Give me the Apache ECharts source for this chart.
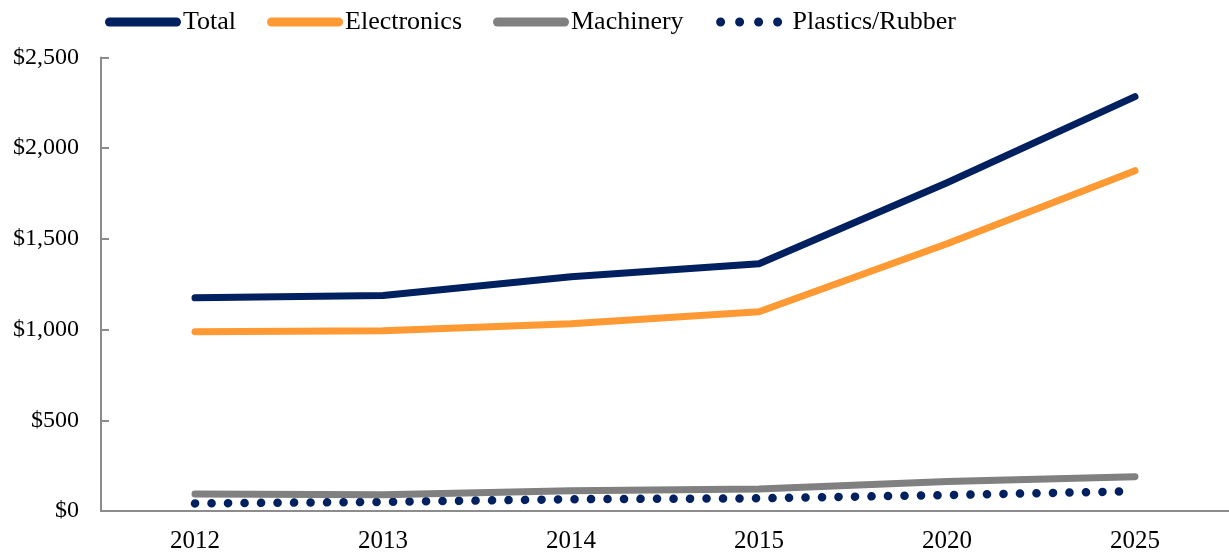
<!DOCTYPE html>
<html>
<head>
<meta charset="utf-8">
<script src="https://cdn.jsdelivr.net/npm/echarts@6/dist/echarts.min.js"></script>
<style>
html,body{margin:0;padding:0;background:#fff;}
#chart{width:1229px;height:557px;}
</style>
</head>
<body>
<div id="chart"></div>
<script>
const categories = ['2012', '2013', '2014', '2015', '2020', '2025'];
const total = [1175, 1188, 1291, 1363, 1810, 2284];
const electronics = [988, 993, 1032, 1098, 1473, 1876];
const machinery = [94, 90, 112, 121, 162, 189];
const plastics = [42, 50, 65, 70, 88, 109];
const seriesNames = ['Total', 'Electronics', 'Machinery', 'Plastics/Rubber'];

const FONT = '"Liberation Serif", "DejaVu Serif", serif';
const chart = echarts.init(document.getElementById('chart'), null, {renderer: 'canvas'});

const capsuleIcon = 'path://M4.5,0 L71.5,0 A4.5,4.5 0 0 1 71.5,9 L4.5,9 A4.5,4.5 0 0 1 4.5,0 Z';
function circ(cx) { return 'M' + (cx - 4.5) + ',4.5 a4.5,4.5 0 1,0 9,0 a4.5,4.5 0 1,0 -9,0 '; }
const dotsIcon = 'path://M0,4.5 L0.01,4.5 M76,4.5 L75.99,4.5 ' + circ(6) + circ(25) + circ(44) + circ(63);

function lineSeries(name, data, color, width, dash) {
  return {
    name: name,
    type: 'line',
    data: data,
    symbol: 'none',
    smooth: false,
    silent: true,
    lineStyle: {
      color: color,
      width: width,
      type: dash || 'solid',
      cap: 'round',
      join: 'round'
    },
    itemStyle: {color: color},
    z: dash ? 1 : 2
  };
}

chart.setOption({
  animation: false,
  backgroundColor: '#ffffff',
  textStyle: {fontFamily: FONT},
  legend: {
    top: 4,
    left: 100,
    itemWidth: 76,
    itemHeight: 9,
    itemGap: 31,
    itemStyle: {borderWidth: 0},
    data: [
      {name: seriesNames[0], icon: capsuleIcon},
      {name: seriesNames[1], icon: capsuleIcon},
      {name: seriesNames[2], icon: capsuleIcon},
      {name: seriesNames[3], icon: dotsIcon}
    ],
    textStyle: {fontFamily: FONT, fontSize: 26, color: '#000', padding: [0, 0, 0, -3]}
  },
  grid: {left: 101, top: 57.5, width: 1131, height: 453.5, containLabel: false},
  xAxis: {
    type: 'category',
    data: categories,
    boundaryGap: true,
    axisLine: {lineStyle: {color: '#8c8c8c', width: 2}},
    axisTick: {show: false},
    axisLabel: {fontFamily: FONT, fontSize: 25, color: '#000', margin: 18}
  },
  yAxis: {
    type: 'value',
    min: 0,
    max: 2500,
    interval: 500,
    axisLine: {show: true, lineStyle: {color: '#8c8c8c', width: 2}},
    axisTick: {show: true, inside: true, length: 8, lineStyle: {color: '#8c8c8c', width: 2}},
    splitLine: {show: false},
    axisLabel: {
      fontFamily: FONT, fontSize: 24, color: '#000', margin: 22,
      formatter: function (v) { return '$' + v.toLocaleString('en-US'); }
    }
  },
  series: [
    lineSeries('Total', total, '#002060', 7),
    lineSeries('Electronics', electronics, '#FF9933', 7),
    lineSeries('Machinery', machinery, '#808080', 7),
    lineSeries('Plastics/Rubber', plastics, '#002060', 8.5, [0.1, 16.4])
  ]
});
</script>
</body>
</html>
